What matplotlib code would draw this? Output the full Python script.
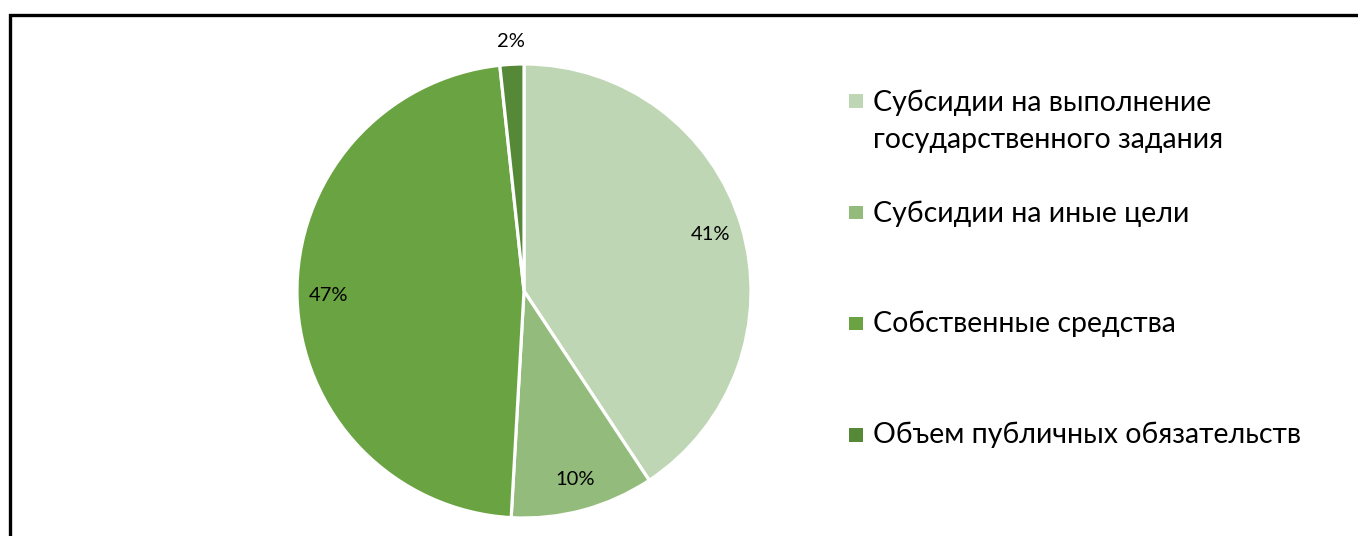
import matplotlib
matplotlib.use("Agg")
import matplotlib.pyplot as plt
from matplotlib.lines import Line2D
from matplotlib.patches import Rectangle
import numpy as np

categories = [
    "Субсидии на выполнение\nгосударственного задания",
    "Субсидии на иные цели",
    "Собственные средства",
    "Объем публичных обязательств",
]
values = [40.7, 10.2, 47.4, 1.7]
colors = ["#BED6B3", "#93BC7C", "#6AA442", "#558837"]

W, H = 1358, 536
plt.rcParams['font.family'] = ['Lato', 'DejaVu Sans']
fig = plt.figure(figsize=(W / 100, H / 100), dpi=100)
fig.patch.set_facecolor("white")

# pie axes: centre (524, 291) px, radius 227 px
cx, cy, r = 524, 291, 227
ax = fig.add_axes([(cx - r) / W, (H - cy - r) / H, 2 * r / W, 2 * r / H])
wedges, texts, autotexts = ax.pie(
    values, colors=colors, startangle=90, counterclock=False,
    autopct=lambda p: f"{p:.0f}%", pctdistance=0.86,
    wedgeprops=dict(edgecolor="white", linewidth=2.3),
    textprops=dict(fontsize=14.5, color="black"),
)
ax.set_xlim(-1, 1)
ax.set_ylim(-1, 1)
ax.set_aspect("auto")

# move the small-slice label outside
w = wedges[3]
ang = np.deg2rad((w.theta1 + w.theta2) / 2)
autotexts[3].set_position((1.10 * np.cos(ang), 1.10 * np.sin(ang)))

# legend drawn manually
marker_y = [101, 212.5, 323.5, 435]
baselines = [[111, 148], [222], [332], [443]]
for lab, col, my, bl in zip(categories, colors, marker_y, baselines):
    s = 13.5
    fig.add_artist(Rectangle((849 / W, (H - my - s / 2) / H), s / W, s / H,
                             transform=fig.transFigure, facecolor=col,
                             edgecolor="none"))
    for line, b in zip(lab.split("\n"), bl):
        fig.text(873 / W, (H - b) / H, line, fontsize=20.5, va="baseline",
                 ha="left", transform=fig.transFigure)

# frame (cropped chart border)
fig.add_artist(Line2D([9.5 / W, 9.5 / W, 1.0], [0.0, (H - 15) / H, (H - 15) / H],
                      transform=fig.transFigure, color="black", linewidth=2.4,
                      solid_joinstyle="miter"))

fig.savefig("out.png", dpi=100, facecolor="white")
